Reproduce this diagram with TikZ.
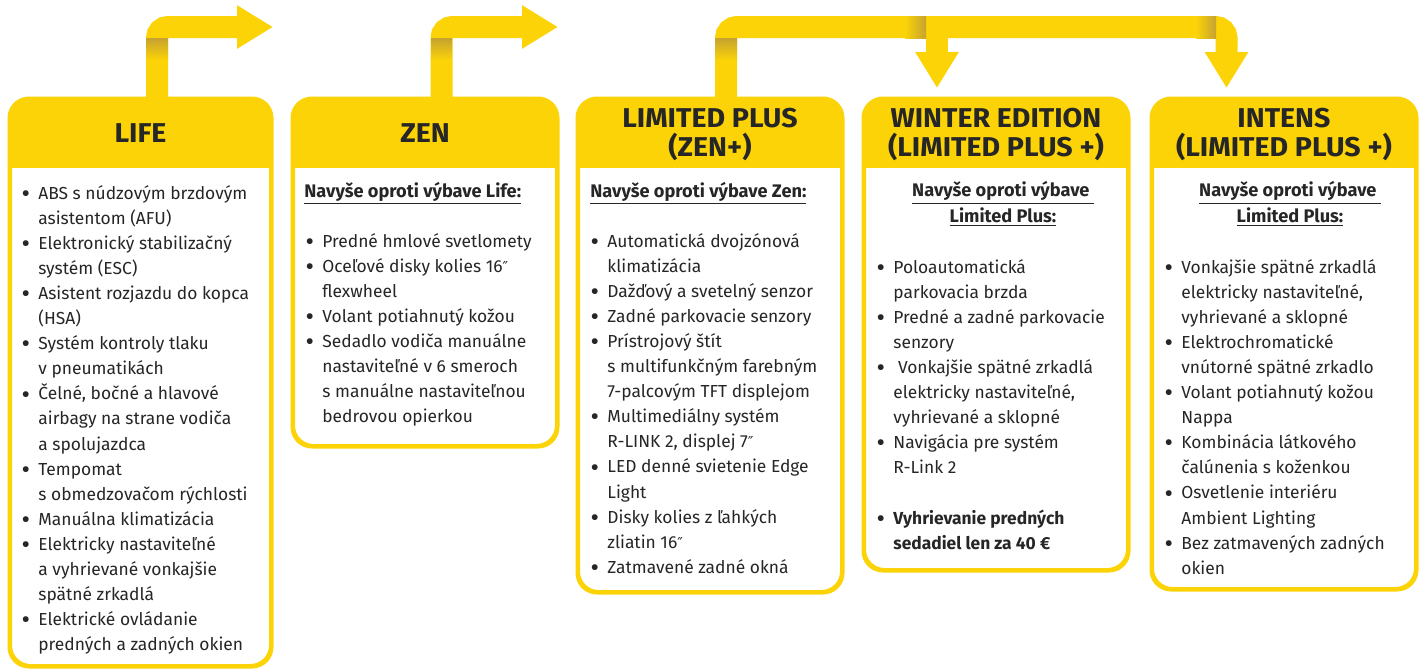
\documentclass[tikz,border=0pt]{standalone}
\usepackage{fontspec}
\setmainfont{Fira Sans}
\newfontfamily\headfont[FakeStretch=1.05]{Fira Sans}
\newfontfamily\symfont{DejaVu Sans}
\usetikzlibrary{arrows.meta,fit}
\definecolor{ylw}{RGB}{251,211,7}
\definecolor{gold}{RGB}{198,162,48}
\definecolor{ink}{RGB}{38,38,38}
\newcommand{\bul}{\leavevmode\llap{\raisebox{-0.35ex}{\fontsize{13}{13}\selectfont •}\hspace{4.2pt}}}
\newcommand{\inch}{{\symfont\fontsize{7.5}{7.5}\selectfont ″}}
\tikzset{
  box/.style={draw=ylw, line width=1.5pt, fill=white, rounded corners=10pt, inner sep=0pt},
  head/.style={font=\headfont\bfseries\fontsize{13.6}{14.5}\selectfont, text=ink, align=center, inner sep=0pt, anchor=base},
  body/.style={font=\fontsize{8.7}{12.55}\selectfont, text=ink, align=left, inner sep=0pt, anchor=base west},
  sub/.style={font=\bfseries\fontsize{9.1}{12.55}\selectfont, text=ink, inner sep=0pt, align=center},
  bar/.style={draw=ylw, line width=11pt, rounded corners=5.5pt, -{Triangle[width=20.5pt,length=18pt]}}
}
\begin{document}
\begin{tikzpicture}[x=0.5pt,y=-0.5pt]
\useasboundingbox (0,0) rectangle (1421,669);
% boxes
\node[box, fit={(10.5,99.5) (270.5,665.5)}] (life) {};
\node[box, fit={(293.5,99.5) (556.5,445.5)}] (zen) {};
\node[box, fit={(578.5,99.5) (841.5,591.5)}] (lim) {};
\node[box, fit={(864.5,99.5) (1127.5,569.5)}] (win) {};
\node[box, fit={(1152.5,99.5) (1415.5,588.5)}] (int) {};
% header bands
\foreach \n in {life,zen,lim,win,int}{
  \begin{scope}
    \clip[rounded corners=10pt] (\n.north west) rectangle (\n.south east);
    \fill[ylw] (\n.north west) rectangle ([yshift=-35pt]\n.north east);
  \end{scope}
  \draw[ylw, line width=1.5pt, rounded corners=10pt] (\n.north west) rectangle (\n.south east);
}
% arrows
\coordinate (lifeout) at (273,27);
\coordinate (zenout) at (558,27);
\coordinate (intTip) at (1226.5,88);
\coordinate (winJoin) at (937,27);
\coordinate (winTip) at (937,88);
\draw[bar] ([xshift=8.25pt]life.north) |- (lifeout);
\draw[bar] ([xshift=8.25pt]zen.north) |- (zenout);
\draw[bar] ([xshift=8pt]lim.north) |- (1226.5,27) -- (intTip);
\draw[bar] (winJoin) -- (winTip);
% shadows
\shade[top color=gold, bottom color=ylw] (146,38) rectangle (168,60);
\shade[top color=gold, bottom color=ylw] (431,38) rectangle (452,60);
\shade[top color=gold, bottom color=ylw] (715,38) rectangle (737,60);
\shade[left color=ylw, right color=gold] (905,16) rectangle (926,38);
\shade[left color=ylw, right color=gold] (1196,16) rectangle (1216,38);
% headers (base = last line)
\node[head] (lifeh) at (140.5,142) {LIFE};
\node[head] (zenh) at (425,142) {ZEN};
\node[head] (limh) at (710,156) {LIMITED PLUS\\(ZEN+)};
\node[head] (winh) at (996,156) {WINTER EDITION\\(LIMITED PLUS +)};
\node[head] (inth) at (1284,156) {INTENS\\(LIMITED PLUS +)};
% subheadings
\node[sub, anchor=base west] (zens) at (304,197) {\underline{Navyše oproti výbave Life:}};
\node[sub, anchor=base west] (lims) at (590,197) {\underline{Navyše oproti výbave Zen:}};
\node[sub, anchor=base] (wins) at (1003,222) {\underline{Navyše oproti výbave\ }\\\underline{Limited Plus:}};
\node[sub, anchor=base] (ints) at (1290,222) {\underline{Navyše oproti výbave\ }\\\underline{Limited Plus:}};
% bodies (base = last line)
\node[body] (lifeb) at (38,650.8) {\bul ABS s núdzovým brzdovým\\
asistentom (AFU)\\
\bul Elektronický stabilizačný\\
systém (ESC)\\
\bul Asistent rozjazdu do kopca\\
(HSA)\\
\bul Systém kontroly tlaku\\
v pneumatikách\\
\bul Čelné, bočné a hlavové\\
airbagy na strane vodiča\\
a spolujazdca\\
\bul Tempomat\\
s obmedzovačom rýchlosti\\
\bul Manuálna klimatizácia\\
\bul Elektricky nastaviteľné\\
a vyhrievané vonkajšie\\
spätné zrkadlá\\
\bul Elektrické ovládanie\\
predných a zadných okien};
\node[body] (zenb) at (322,422.7) {\bul Predné hmlové svetlomety\\
\bul Oceľové disky kolies 16\inch\\
flexwheel\\
\bul Volant potiahnutý kožou\\
\bul Sedadlo vodiča manuálne\\
nastaviteľné v 6 smeroch\\
s manuálne nastaviteľnou\\
bedrovou opierkou};
\node[body] (limb) at (607,573.3) {\bul Automatická dvojzónová\\
klimatizácia\\
\bul Dažďový a svetelný senzor\\
\bul Zadné parkovacie senzory\\
\bul Prístrojový štít\\
s multifunkčným farebným\\
7-palcovým TFT displejom\\
\bul Multimediálny systém\\
R-LINK 2, displej 7\inch\\
\bul LED denné svietenie Edge\\
Light\\
\bul Disky kolies z ľahkých\\
zliatin 16\inch\\
\bul Zatmavené zadné okná};
\node[body] (winb) at (893,549.1) {\bul Poloautomatická\\
parkovacia brzda\\
\bul Predné a zadné parkovacie\\
senzory\\
\bul\ Vonkajšie spätné zrkadlá\\
elektricky nastaviteľné,\\
vyhrievané a sklopné\\
\bul Navigácia pre systém\\
R-Link 2\\
\mbox{}\\
\bul\textbf{Vyhrievanie predných}\\
\textbf{sedadiel len za 40 €}};
\node[body] (intb) at (1181,574.2) {\bul Vonkajšie spätné zrkadlá\\
elektricky nastaviteľné,\\
vyhrievané a sklopné\\
\bul Elektrochromatické\\
vnútorné spätné zrkadlo\\
\bul Volant potiahnutý kožou\\
Nappa\\
\bul Kombinácia látkového\\
čalúnenia s koženkou\\
\bul Osvetlenie interiéru\\
Ambient Lighting\\
\bul Bez zatmavených zadných\\
okien};
\end{tikzpicture}
\end{document}
